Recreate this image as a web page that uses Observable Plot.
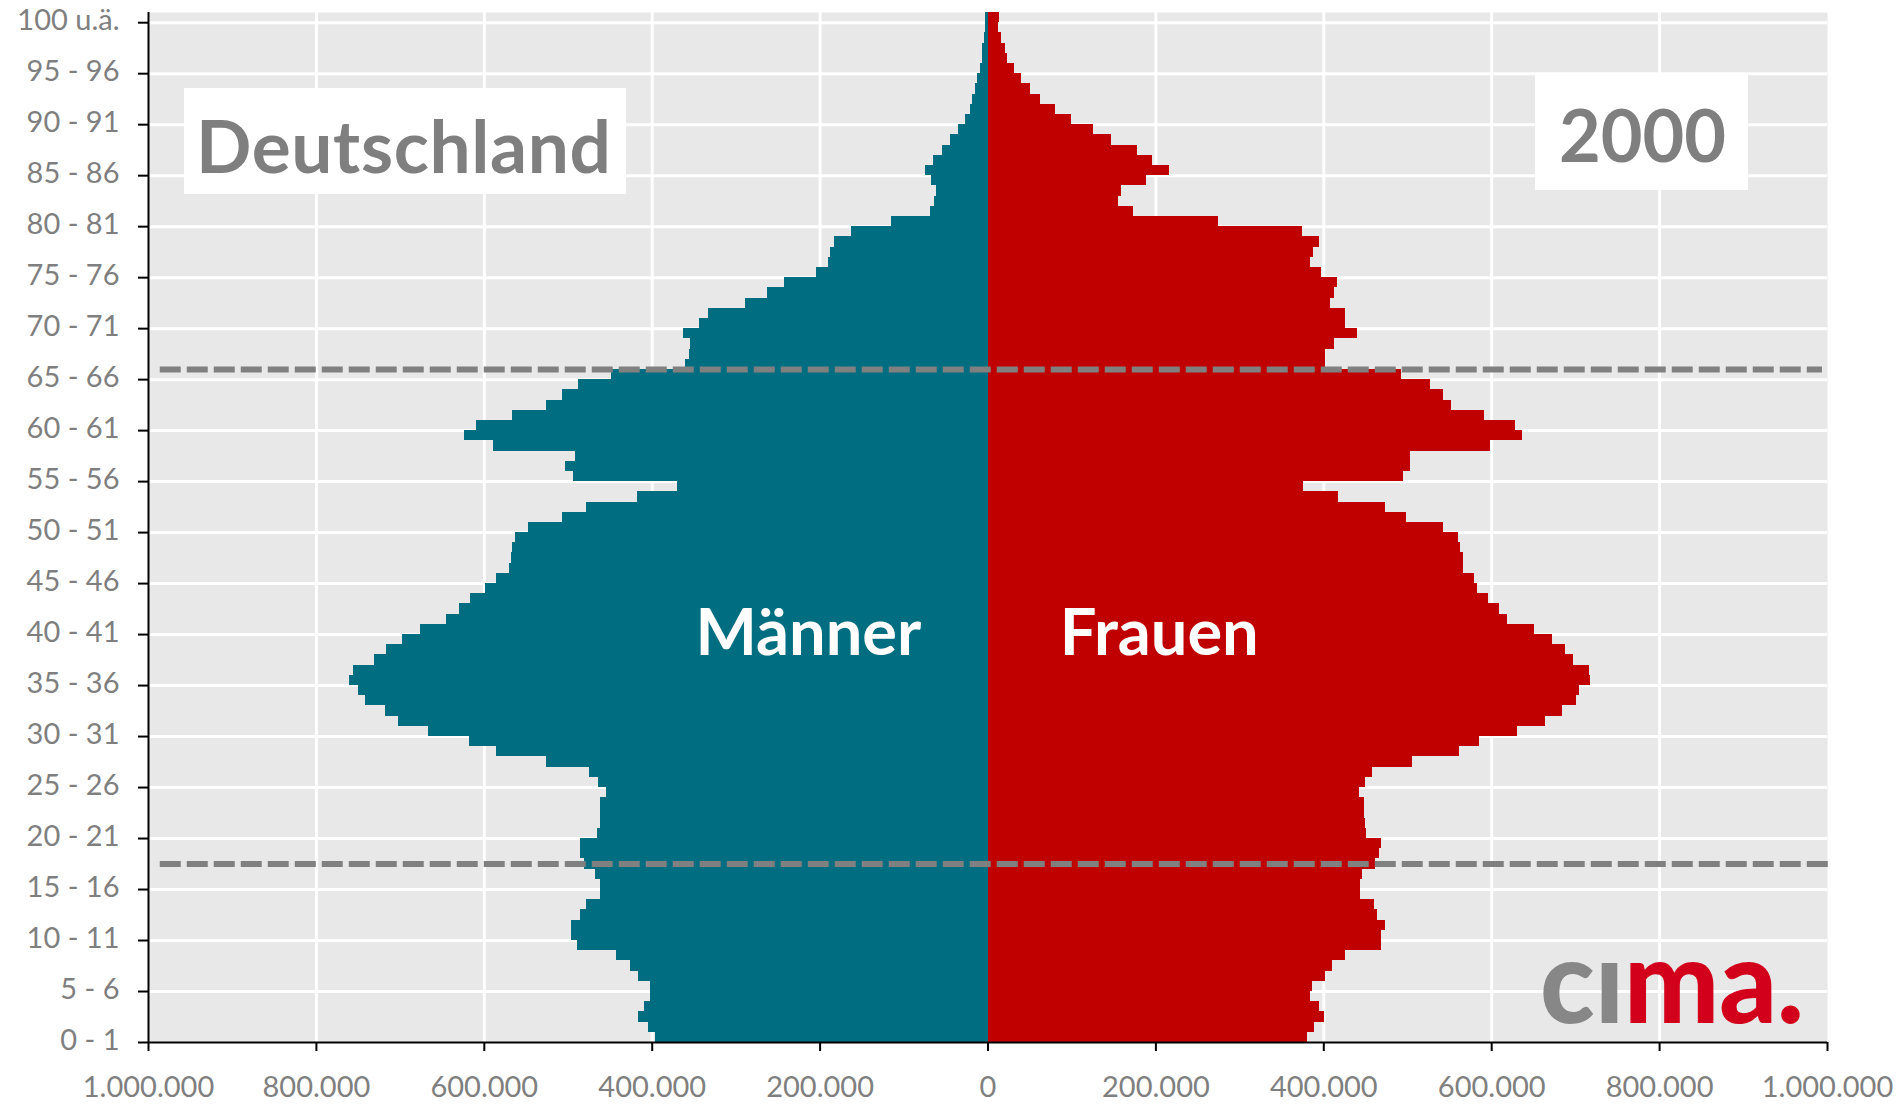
<!DOCTYPE html>
<html><head><meta charset="utf-8">
<script src="https://cdn.jsdelivr.net/npm/d3@7"></script>
<script src="https://cdn.jsdelivr.net/npm/@observablehq/plot@0.6"></script>
<style>
body{margin:0;background:#fff;}
#wrap{position:relative;width:1900px;height:1110px;overflow:hidden;}
#wrap svg{position:absolute;left:0;top:0;}
</style></head><body><div id="wrap"></div>
<script>
// Population by single year of age (thousands), age 0 ... 100+
const men = [396,405,416,409,402,402,416,426,442,489,
  496,496,486,478,462,462,467,481,485,485,
  465,462,462,462,454,464,475,526,586,618,
  667,702,718,742,750,761,756,731,717,698,
  676,645,630,616,598,585,570,568,566,563,
  547,507,478,418,370,494,503,491,589,623,
  609,567,526,507,488,449,360,356,354,363,
  344,333,289,263,242,204,190,188,183,163,
  115,69,64,61,67,74,65,54,45,35,
  27,21,19,15,12,9,7,7,4,3,
  3];
const women = [381,389,401,395,384,387,402,410,426,469,
  469,474,464,460,444,444,446,461,466,469,
  451,450,449,449,442,450,458,506,562,585,
  631,664,684,701,705,718,716,697,688,672,
  651,619,609,596,583,579,567,566,563,561,
  543,498,474,418,376,495,503,503,599,637,
  628,591,552,543,527,493,402,402,413,440,
  426,426,408,413,416,397,384,388,395,375,
  275,173,156,159,189,216,196,178,147,126,
  99,80,63,51,40,31,23,21,16,13,
  14];

const yTickAges = [0,5,10,15,20,25,30,35,40,45,50,55,60,65,70,75,80,85,90,95,100];
const yTickLabels = ["0 - 1","5 - 6","10 - 11","15 - 16","20 - 21","25 - 26","30 - 31","35 - 36","40 - 41","45 - 46","50 - 51","55 - 56","60 - 61","65 - 66","70 - 71","75 - 76","80 - 81","85 - 86","90 - 91","95 - 96","100 u.ä."];
const xTickValues = [-1000000,-800000,-600000,-400000,-200000,0,200000,400000,600000,800000,1000000];
const xTickLabels = ["1.000.000","800.000","600.000","400.000","200.000","0","200.000","400.000","600.000","800.000","1.000.000"];
const xGrid = [-800000,-600000,-400000,-200000,200000,400000,600000,800000];
const yGrid = [5,10,15,20,25,30,35,40,45,50,55,60,65,70,75,80,85,90,95,100];
const dashedRefs = [{age: 66, from: -986000, to: 994000}, {age: 17.5, from: -986000, to: 1004000}];
const sexLabels = [{label: "Männer", x: -214000, age: 40}, {label: "Frauen", x: 204000, age: 40}];

const rows = men.map((m, i) => ({age: i, m: m * 1000, f: women[i] * 1000}));
const yLabelMap = new Map(yTickAges.map((a, i) => [a + 0.5, yTickLabels[i]]));
const xLabelMap = new Map(xTickValues.map((v, i) => [v, xTickLabels[i]]));

const TEAL = "#006e80", RED = "#c00000", GRAY = "#7f7f7f";

const chart = Plot.plot({
  width: 1900, height: 1110,
  marginLeft: 148, marginRight: 73, marginTop: 12, marginBottom: 68,
  style: {fontFamily: "Lato, 'Open Sans', sans-serif", fontSize: "29px", background: "white"},
  x: {domain: [-1000000, 1000000], label: null},
  y: {domain: [0, 101], label: null},
  marks: [
    Plot.frame({fill: "#e8e8e8", stroke: "none"}),
    Plot.ruleY(yGrid, {stroke: "white", strokeWidth: 3}),
    Plot.ruleX(xGrid, {stroke: "white", strokeWidth: 3}),
    Plot.rect(rows, {x1: 0, x2: d => -d.m, y1: "age", y2: d => d.age + 1, fill: TEAL, shapeRendering: "crispEdges"}),
    Plot.rect(rows, {x1: 0, x2: "f", y1: "age", y2: d => d.age + 1, fill: RED, shapeRendering: "crispEdges"}),
    Plot.ruleY(dashedRefs, {y: "age", x1: "from", x2: "to", stroke: "#808080", strokeWidth: 6, strokeDasharray: "21,6"}),
    Plot.ruleX([-1000000], {stroke: "black", strokeWidth: 2}),
    Plot.ruleY([0], {stroke: "black", strokeWidth: 2}),
    Plot.axisY({ticks: yTickAges, tickSize: 10, tickFormat: () => "", stroke: "black", strokeWidth: 2, label: null}),
    Plot.axisY({ticks: yTickAges.map(a => a + 0.5), tickSize: 0, tickPadding: 29, dy: 3, tickFormat: d => yLabelMap.get(d), fill: GRAY, fontSize: 29, label: null}),
    Plot.axisX({ticks: xTickValues, tickSize: 9, tickPadding: 25, tickFormat: d => xLabelMap.get(d), stroke: "black", strokeWidth: 2, fill: GRAY, fontSize: 29, label: null}),
    Plot.text(sexLabels, {x: "x", y: "age", text: "label", fill: "white", fontSize: 65, fontWeight: 700, fontFamily: "Lato"})
  ]
});
const wrap = document.getElementById("wrap");
wrap.appendChild(chart);

// overlay: title boxes and logo
const ov = d3.select(wrap).append("svg").attr("width", 1900).attr("height", 1110)
  .style("font-family", "Lato, 'Open Sans', sans-serif");
ov.append("rect").attr("x", 184).attr("y", 88).attr("width", 442).attr("height", 106).attr("fill", "white");
ov.append("text").attr("x", 196).attr("y", 173).attr("fill", GRAY).attr("font-size", 73).attr("font-weight", 700)
  .attr("textLength", 415).attr("lengthAdjust", "spacing").text("Deutschland");
ov.append("rect").attr("x", 1535).attr("y", 74).attr("width", 213).attr("height", 116).attr("fill", "white");
ov.append("text").attr("x", 1559).attr("y", 162).attr("fill", GRAY).attr("font-size", 72).attr("font-weight", 700).text("2000");
const logo = ov.append("text").attr("x", 1540).attr("y", 1023).attr("font-size", 116).attr("font-weight", 900)
  .attr("textLength", 264).attr("lengthAdjust", "spacingAndGlyphs");
logo.append("tspan").attr("fill", "#878787").text("cı");
logo.append("tspan").attr("fill", "#d3001c").text("ma.");
</script></body></html>
